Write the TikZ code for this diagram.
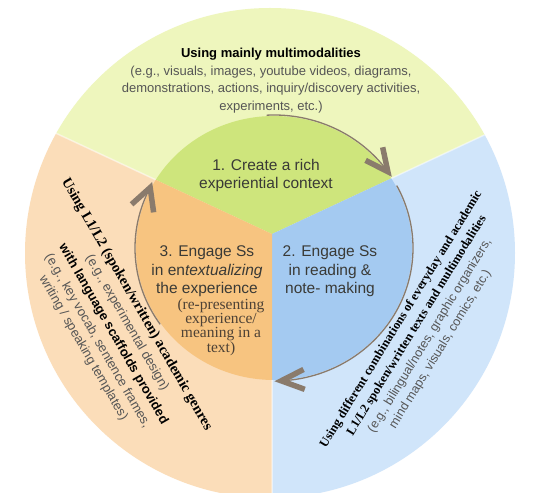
\documentclass[tikz,border=0pt]{standalone}
\usepackage{fontspec}
\setmainfont{Liberation Sans}
\newfontfamily\serifL{Liberation Serif}
\usetikzlibrary{calc}
\definecolor{topout}{HTML}{EEF6BD}
\definecolor{topin}{HTML}{CEE57C}
\definecolor{leftout}{HTML}{FBDDB9}
\definecolor{leftin}{HTML}{F7C480}
\definecolor{rightout}{HTML}{D0E5FA}
\definecolor{rightin}{HTML}{A4CAF1}
\definecolor{arrowc}{HTML}{8A7B6C}
\definecolor{txtc}{HTML}{3A3A36}
\definecolor{grytxt}{HTML}{555555}
\definecolor{sertxt}{HTML}{4E4236}
\tikzset{
  arcline/.style={draw=arrowc,line width=1.3pt},
  chev/.style={draw=arrowc,line width=5.5pt,line join=miter,line cap=butt},
  divline/.style={draw=white,opacity=.5,line width=1.5pt},
  inlabel/.style={align=center,text=txtc,font=\fontsize{15.5}{18.5}\selectfont,inner sep=0pt},
  serlabel/.style={align=center,text=sertxt,font=\serifL\fontsize{15.5}{14}\selectfont,inner sep=0pt},
  rotL/.style={rotate=-60,inner sep=0pt},
  rotR/.style={rotate=58.5,inner sep=0pt},
  boldser/.style={text=black,font=\serifL\bfseries\fontsize{#1}{#1}\selectfont},
  grysans/.style={text=grytxt,font=\fontsize{#1}{#1}\selectfont},
  boldsans/.style={text=black,font=\bfseries\fontsize{#1}{#1}\selectfont}
}
\begin{document}
\begin{tikzpicture}[x=1pt,y=1pt]
\useasboundingbox (0,0) rectangle (539,493);
\fill[white] (0,0) rectangle (539,493);
\coordinate (O) at (270,240);
\coordinate (I) at (274,245);
\coordinate (J) at (272,259);
% outer ring
\begin{scope}
  \clip (O) circle[radius=245];
  \fill[topout] (J) -- ($(J)+(25:500)$) -- ($(J)+(90:500)$) -- ($(J)+(155:500)$) -- cycle;
  \fill[rightout] (J) -- ($(J)+(25:500)$) -- ($(J)+(-32.5:500)$) -- ($(J)+(-90:500)$) -- cycle;
  \fill[leftout] (J) -- ($(J)+(155:500)$) -- ($(J)+(212.5:500)$) -- ($(J)+(270:500)$) -- cycle;
  \draw[divline] (J) -- ($(J)+(25:500)$) (J) -- ($(J)+(155:500)$) (J) -- ($(J)+(270:500)$);
\end{scope}
% inner circle
\begin{scope}
  \clip (I) ellipse[x radius=138,y radius=132];
  \fill[topin] (J) -- ($(J)+(25:500)$) -- ($(J)+(90:500)$) -- ($(J)+(155:500)$) -- cycle;
  \fill[rightin] (J) -- ($(J)+(25:500)$) -- ($(J)+(-32.5:500)$) -- ($(J)+(-90:500)$) -- cycle;
  \fill[leftin] (J) -- ($(J)+(155:500)$) -- ($(J)+(212.5:500)$) -- ($(J)+(270:500)$) -- cycle;
\end{scope}
% arrows
\coordinate (a1s) at ($(I)+(93:139 and 133)$);
\coordinate (a1e) at ($(I)+(35:139 and 133)$);
\draw[arcline] (a1s) arc[start angle=93,end angle=35,x radius=139,y radius=133];
\draw[chev] ($(a1e)+(102:25)$) -- (a1e) -- ($(a1e)+(153:25)$);
\coordinate (a2s) at ($(I)+(28:139 and 133)$);
\coordinate (a2e) at ($(I)+(273:139 and 133)$);
\draw[arcline] (a2s) arc[start angle=28,end angle=-87,x radius=139,y radius=133];
\draw[chev] ($(a2e)+(27:25)$) -- (a2e) -- ($(a2e)+(-20:25)$);
\coordinate (a3s) at ($(I)+(215:139 and 133)$);
\coordinate (a3e) at ($(I)+(153:139 and 133)$);
\draw[arcline] (a3s) arc[start angle=215,end angle=153,x radius=139,y radius=133];
\draw[chev] ($(a3e)+(222:25)$) -- (a3e) -- ($(a3e)+(278:25)$);
% top text
\node[align=center,text=grytxt,font=\fontsize{13}{17.5}\selectfont,inner sep=0pt] (title) at (271,412.5)
  {{\bfseries\color{black}Using mainly multimodalities}\\
   (e.g., visuals, images, youtube videos, diagrams,\\
   demonstrations, actions, inquiry/discovery activities,\\
   experiments, etc.)};
% inner labels
\node[inlabel] (n1) at (266,317.5) {1. Create a rich\\experiential context};
\node[inlabel] (n3) at (207,221.5) {3. Engage Ss\\in en\textit{textualizing}\\the experience};
\node[serlabel] (n3b) at (221,165.5) {(re-presenting\\experience/\\meaning in a\\text)};
\node[inlabel] (n2) at (330,221.5) {2. Engage Ss\\in reading \&\\note- making};
% left rotated text
\node[rotL,boldser=14.5] (l1) at (136.6,188.5) {Using L1/L2 (spoken/written) academic genres};
\node[rotL,grysans=13] (l2) at (126.9,170.25) {(e.g., experimental design)};
\node[rotL,boldsans=13] (l3) at (113.25,158.9) {with language scaffolds provided};
\node[rotL,grysans=13] (l4) at (97.5,152.1) {(e.g., key vocab, sentence frames,};
\node[rotL,grysans=13] (l5) at (83.2,145) {writing / speaking templates)};
% right rotated text
\node[rotR,boldser=12.6] (r1) at (401.3,173.6) {Using different combinations of everyday and academic};
\node[rotR,boldser=12.6] (r2) at (417,167.5) {L1/L2 spoken/written texts and multimodalities};
\node[rotR,grysans=12.5] (r3) at (429.9,157.2) {(e.g., bilingual/notes, graphic organizers,};
\node[rotR,grysans=12.5] (r4) at (440.5,143.7) {mind maps, visuals, comics, etc.)};
\end{tikzpicture}
\end{document}
